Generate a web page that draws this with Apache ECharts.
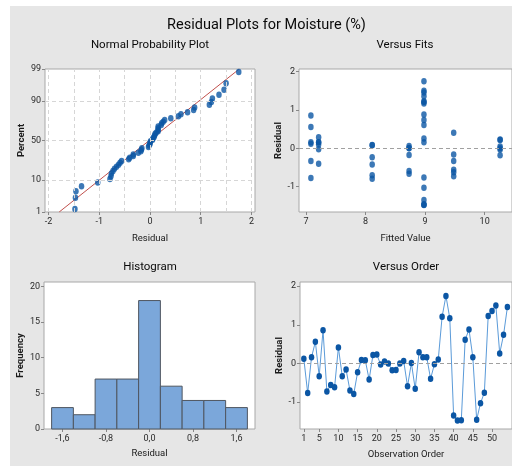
<!DOCTYPE html>
<html><head><meta charset="utf-8">
<script src="https://cdn.jsdelivr.net/npm/echarts@6/dist/echarts.min.js"></script>
<style>html,body{margin:0;padding:0;background:#fff}#c{width:512px;height:466px}</style>
</head><body><div id="c"></div>
<script>
// ---- data ----
const residuals = [0.12,-0.77,0.16,0.56,-0.33,0.86,-0.73,-0.56,-0.62,0.41,-0.33,-0.16,-0.70,-0.79,-0.23,0.09,0.08,-0.42,0.22,0.23,-0.03,0.05,0.00,-0.18,-0.17,0.00,0.06,-0.59,0.01,-0.66,0.29,0.16,0.16,-0.40,-0.02,0.10,1.21,1.75,1.17,-1.35,-1.48,-1.47,0.61,0.88,0.16,-1.46,-1.03,-0.76,1.23,1.36,1.50,0.26,0.74,1.46];
const fitted = [7.08,7.08,7.08,7.08,7.08,7.08,9.48,9.48,9.48,9.48,9.48,9.48,8.11,8.11,8.11,8.11,8.11,8.11,10.26,10.26,10.26,10.26,10.26,10.26,8.73,8.73,8.73,8.73,8.73,8.73,7.21,7.21,7.21,7.21,7.21,7.21,8.98,8.98,8.98,8.98,8.98,8.98,8.98,8.98,8.98,8.98,8.98,8.98,8.98,8.98,8.98,8.98,8.98,8.98];
const histCenters = [-1.6,-1.2,-0.8,-0.4,0.0,0.4,0.8,1.2,1.6];
const histCounts = [3,2,7,7,18,6,4,4,3];
const histBinWidth = 0.4;
const fitLine = [[-1.79,1],[1.76,99]];          // residual, percent
const probPctTicks = [1,10,50,90,99];
const probGridPct = [10,50,90];
const probGridX = [-2,-1.5,-1,-0.5,0,0.5,1,1.5,2];
const probXTicks = [-2,-1,0,1,2];
const fitsXTicks = [7,8,9,10];
const residTicks = [-1,0,1,2];
const histXTicks = [-1.6,-0.8,0,0.8,1.6];
const histYTicks = [0,5,10,15,20];
const orderTicks = [1,5,10,15,20,25,30,35,40,45,50];

// inverse standard normal CDF (Acklam)
function qnorm(p){
  const a=[-3.969683028665376e+01,2.209460984245205e+02,-2.759285104469687e+02,1.383577518672690e+02,-3.066479806614716e+01,2.506628277459239e+00];
  const b=[-5.447609879822406e+01,1.615858368580409e+02,-1.556989798598866e+02,6.680131188771972e+01,-1.328068155288572e+01];
  const c=[-7.784894002430293e-03,-3.223964580411365e-01,-2.400758277161838e+00,-2.549671010029198e+00,4.374664141464968e+00,2.938163982698783e+00];
  const d=[7.784695709041462e-03,3.224671290700398e-01,2.445134137142996e+00,3.754408661907416e+00];
  const pl=0.02425;let q,r;
  if(p<pl){q=Math.sqrt(-2*Math.log(p));return (((((c[0]*q+c[1])*q+c[2])*q+c[3])*q+c[4])*q+c[5])/((((d[0]*q+d[1])*q+d[2])*q+d[3])*q+1);}
  if(p<=1-pl){q=p-0.5;r=q*q;return (((((a[0]*r+a[1])*r+a[2])*r+a[3])*r+a[4])*r+a[5])*q/(((((b[0]*r+b[1])*r+b[2])*r+b[3])*r+b[4])*r+1);}
  q=Math.sqrt(-2*Math.log(1-p));return -(((((c[0]*q+c[1])*q+c[2])*q+c[3])*q+c[4])*q+c[5])/((((d[0]*q+d[1])*q+d[2])*q+d[3])*q+1);
}
const zOf = pct => qnorm(pct/100);

// normal probability plot points: sorted residuals with median-rank positions
const sorted = residuals.slice().sort((a,b)=>a-b);
const nRes = sorted.length;
const probPts = sorted.map((v,i)=>[v, qnorm((i+1-0.3)/(nRes+0.4))]);

const F = 'Roboto, Liberation Sans, Arial, sans-serif';
const PT = '#0b56a4';
const SYM = [5.5,6.5];
const LBL = {fontFamily:F,fontSize:9,color:'#2a2a2a'};
const TICK = {show:true,length:3,lineStyle:{color:'#888'}};
const NAMEX = {fontFamily:F,fontSize:9.5,color:'#1a1a1a'};
const NAMEY = {fontFamily:F,fontSize:9.5,color:'#1a1a1a',fontWeight:'bold'};
const AXL = {show:false,onZero:false};
const comma = v => (Math.abs(v)<1e-9?0:v).toFixed(1).replace('.',',');

const gridBase = {show:true,backgroundColor:'#fff',borderColor:'#a8a8a8',borderWidth:1,containLabel:false};

const option = {
  animation:false,
  backgroundColor:'#fff',
  graphic:[
    {type:'rect',z:-10,shape:{x:10,y:6,width:502,height:460},style:{fill:'#e6e6e6'}},
    {type:'text',z:10,x:266.5,y:25,style:{text:'Residual Plots for Moisture (%)',fontFamily:F,fontSize:14.5,fill:'#0a0a0a',textAlign:'center',textVerticalAlign:'middle'}},
    {type:'text',z:10,x:150,y:45,style:{text:'Normal Probability Plot',fontFamily:F,fontSize:11.5,fill:'#0a0a0a',textAlign:'center',textVerticalAlign:'middle'}},
    {type:'text',z:10,x:405,y:45,style:{text:'Versus Fits',fontFamily:F,fontSize:11.5,fill:'#0a0a0a',textAlign:'center',textVerticalAlign:'middle'}},
    {type:'text',z:10,x:150,y:267,style:{text:'Histogram',fontFamily:F,fontSize:11.5,fill:'#0a0a0a',textAlign:'center',textVerticalAlign:'middle'}},
    {type:'text',z:10,x:406,y:267,style:{text:'Versus Order',fontFamily:F,fontSize:11.5,fill:'#0a0a0a',textAlign:'center',textVerticalAlign:'middle'}}
  ],
  grid:[
    Object.assign({left:45,top:69,width:210,height:143},gridBase),
    Object.assign({left:299,top:69,width:214,height:143},gridBase),
    Object.assign({left:44,top:282,width:211,height:147},gridBase),
    Object.assign({left:300,top:282,width:213,height:147},gridBase)
  ],
  xAxis:[
    {gridIndex:0,type:'value',min:-2.07,max:2.07,name:'Residual',nameLocation:'middle',nameGap:22,nameTextStyle:NAMEX,
     axisLine:AXL,axisTick:Object.assign({customValues:probXTicks},TICK),axisLabel:Object.assign({customValues:probXTicks,margin:5},LBL),splitLine:{show:false}},
    {gridIndex:1,type:'value',min:6.88,max:10.46,name:'Fitted Value',nameLocation:'middle',nameGap:22,nameTextStyle:NAMEX,
     axisLine:AXL,axisTick:Object.assign({customValues:fitsXTicks},TICK),axisLabel:Object.assign({customValues:fitsXTicks,margin:5},LBL),splitLine:{show:false}},
    {gridIndex:2,type:'value',min:-1.94,max:1.94,name:'Residual',nameLocation:'middle',nameGap:20,nameTextStyle:NAMEX,
     axisLine:AXL,axisTick:Object.assign({customValues:histXTicks},TICK),axisLabel:Object.assign({customValues:histXTicks,margin:5,formatter:comma},LBL),splitLine:{show:false}},
    {gridIndex:3,type:'value',min:0,max:55.2,name:'Observation Order',nameLocation:'middle',nameGap:21,nameTextStyle:NAMEX,
     axisLine:AXL,axisTick:Object.assign({customValues:orderTicks},TICK),axisLabel:Object.assign({customValues:orderTicks,margin:5},LBL),splitLine:{show:false}}
  ],
  yAxis:[
    {gridIndex:0,type:'value',min:zOf(1),max:zOf(99),name:'Percent',nameLocation:'middle',nameGap:16,nameTextStyle:NAMEY,
     axisLine:AXL,axisTick:Object.assign({customValues:probPctTicks.map(zOf)},TICK),
     axisLabel:Object.assign({customValues:probPctTicks.map(zOf),margin:4,formatter:v=>{let best=probPctTicks[0];probPctTicks.forEach(p=>{if(Math.abs(zOf(p)-v)<Math.abs(zOf(best)-v))best=p;});return String(best);}},LBL),splitLine:{show:false}},
    {gridIndex:1,type:'value',min:-1.66,max:2.07,name:'Residual',nameLocation:'middle',nameGap:14,nameTextStyle:NAMEY,
     axisLine:AXL,axisTick:Object.assign({customValues:residTicks},TICK),axisLabel:Object.assign({customValues:residTicks,margin:4},LBL),splitLine:{show:false}},
    {gridIndex:2,type:'value',min:0,max:20.6,name:'Frequency',nameLocation:'middle',nameGap:16,nameTextStyle:NAMEY,
     axisLine:AXL,axisTick:Object.assign({customValues:histYTicks},TICK),axisLabel:Object.assign({customValues:histYTicks,margin:4},LBL),splitLine:{show:false}},
    {gridIndex:3,type:'value',min:-1.70,max:2.11,name:'Residual',nameLocation:'middle',nameGap:15,nameTextStyle:NAMEY,
     axisLine:AXL,axisTick:Object.assign({customValues:residTicks},TICK),axisLabel:Object.assign({customValues:residTicks,margin:4},LBL),splitLine:{show:false}}
  ],
  series:[
    // probability plot gridlines
    {type:'line',xAxisIndex:0,yAxisIndex:0,data:[],silent:true,z:1,
     markLine:{silent:true,symbol:'none',label:{show:false},lineStyle:{color:'#d6d6d6',type:[4,3],width:1},
       data:probGridX.map(x=>({xAxis:x})).concat(probGridPct.map(p=>({yAxis:zOf(p)})))}},
    {type:'line',xAxisIndex:0,yAxisIndex:0,data:fitLine.map(d=>[d[0],zOf(d[1])]),symbol:'none',z:3,
     lineStyle:{color:'#c0504d',width:1}},
    {type:'scatter',xAxisIndex:0,yAxisIndex:0,data:probPts,symbol:'circle',symbolSize:SYM,z:4,itemStyle:{color:PT}},
    // versus fits
    {type:'scatter',xAxisIndex:1,yAxisIndex:1,data:fitted.map((f,i)=>[f,residuals[i]]),symbol:'circle',symbolSize:SYM,z:4,itemStyle:{color:PT},
     markLine:{silent:true,symbol:'none',label:{show:false},lineStyle:{color:'#a0a0a0',type:[4,3],width:1.2},data:[{yAxis:0}]}},
    // histogram
    {type:'custom',xAxisIndex:2,yAxisIndex:2,data:histCenters.map((c,i)=>[c,histCounts[i]]),z:3,
     renderItem:(params,api)=>{const c=api.value(0),n=api.value(1);const p0=api.coord([c-histBinWidth/2,n]);const p1=api.coord([c+histBinWidth/2,0]);
       return {type:'rect',shape:{x:p0[0],y:p0[1],width:p1[0]-p0[0],height:p1[1]-p0[1]},style:{fill:'#7ba7da',stroke:'#4f5660',lineWidth:1}};}},
    // versus order
    {type:'line',xAxisIndex:3,yAxisIndex:3,data:residuals.map((r,i)=>[i+1,r]),symbol:'circle',symbolSize:SYM,showSymbol:true,z:4,
     lineStyle:{color:'#5b9bd9',width:1},itemStyle:{color:PT},
     markLine:{silent:true,symbol:'none',label:{show:false},lineStyle:{color:'#a0a0a0',type:[4,3],width:1.2},data:[{yAxis:0}]}}
  ]
};
const chart = echarts.init(document.getElementById('c'),null,{renderer:'canvas'});
chart.setOption(option);
</script></body></html>
